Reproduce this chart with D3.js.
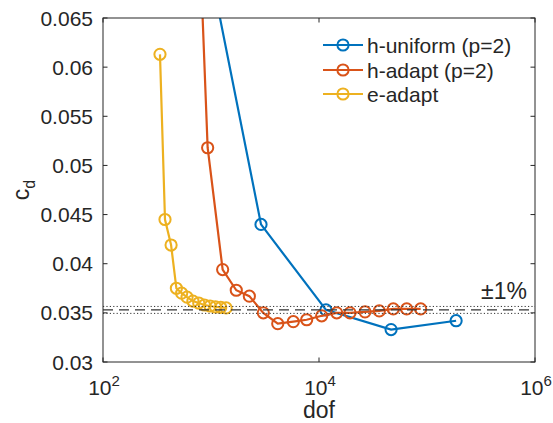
<!DOCTYPE html>
<html>
<head>
<meta charset="utf-8">
<script src="https://cdn.jsdelivr.net/npm/d3@7"></script>
<style>
  body { margin: 0; background: #fff; }
  svg text { font-family: "Liberation Sans", Arial, sans-serif; fill: #262626; }
</style>
</head>
<body>
<svg id="chart" width="553" height="423"></svg>
<script>
// data
const huniformDof = [726, 2904, 11600, 46500, 186000];
const huniformCd = [0.0773, 0.0440, 0.0353, 0.0333, 0.0342];

const hadaptDof = [790, 931, 1282, 1714, 2265, 3050, 4150, 5780, 7690, 10590, 14590, 19370, 26670, 36150, 48720, 64860, 87350];
const hadaptCd = [0.0721, 0.0518, 0.0394, 0.0373, 0.0367, 0.0350, 0.0339, 0.0341, 0.0343, 0.0347, 0.0350, 0.0350, 0.0351, 0.0352, 0.0354, 0.0354, 0.0354];

const eadaptDof = [337, 375, 427, 478, 535, 600, 680, 770, 870, 980, 1100, 1230, 1380];
const eadaptCd = [0.0613, 0.0445, 0.0419, 0.0375, 0.0370, 0.0366, 0.0362, 0.0360, 0.0358, 0.0357, 0.0356, 0.03555, 0.0355];

const seriesNames = ["h-uniform (p=2)", "h-adapt (p=2)", "e-adapt"];
const seriesColors = ["#0072BD", "#D95319", "#EDB120"];

const refCd = 0.0353;
const xTicks = [1e2, 1e4, 1e6];
const yTicks = [0.03, 0.035, 0.04, 0.045, 0.05, 0.055, 0.06, 0.065];

function plot() {
  const svg = d3.select('#chart');
  const margin = { left: 103, top: 18, right: 18, bottom: 61 };
  const width = 553, height = 423;
  const axisColor = '#262626';

  const x = d3.scaleLog().domain([1e2, 1e6]).range([margin.left, width - margin.right]);
  const y = d3.scaleLinear().domain([0.03, 0.065]).range([height - margin.bottom, margin.top]);

  svg.append('clipPath').attr('id', 'clip')
    .append('rect')
    .attr('x', margin.left).attr('y', margin.top)
    .attr('width', x.range()[1] - x.range()[0])
    .attr('height', y.range()[0] - y.range()[1]);

  // series
  const series = [
    d3.zip(huniformDof, huniformCd),
    d3.zip(hadaptDof, hadaptCd),
    d3.zip(eadaptDof, eadaptCd)
  ];

  const line = d3.line().x(d => x(d[0])).y(d => y(d[1]));
  const plotG = svg.append('g').attr('clip-path', 'url(#clip)');

  series.forEach(function (pts, i) {
    plotG.append('path')
      .attr('d', line(pts))
      .attr('fill', 'none')
      .attr('stroke', seriesColors[i])
      .attr('stroke-width', 2.2);
    plotG.append('g').selectAll('circle')
      .data(pts)
      .join('circle')
      .attr('cx', d => x(d[0]))
      .attr('cy', d => y(d[1]))
      .attr('r', 5.6)
      .attr('fill', 'none')
      .attr('stroke', seriesColors[i])
      .attr('stroke-width', 2);
  });

  // reference line and +-1% band, drawn on top of the data
  const refs = [
    { v: refCd, dash: '10,6', w: 1.1 },
    { v: refCd * 1.01, dash: '1.2,2.2', w: 1 },
    { v: refCd * 0.99, dash: '1.2,2.2', w: 1 }
  ];
  svg.append('g').selectAll('line')
    .data(refs)
    .join('line')
    .attr('x1', x.range()[0]).attr('x2', x.range()[1])
    .attr('y1', d => y(d.v)).attr('y2', d => y(d.v))
    .attr('stroke', '#333')
    .attr('stroke-width', d => d.w)
    .attr('stroke-dasharray', d => d.dash);

  svg.append('text')
    .attr('x', 504).attr('y', 299)
    .attr('text-anchor', 'middle')
    .style('font-size', '23px')
    .text('\u00b11%');

  // axes box
  const x0 = x.range()[0], x1 = x.range()[1], y0 = y.range()[0], y1 = y.range()[1];
  svg.append('rect')
    .attr('x', x0).attr('y', y1)
    .attr('width', x1 - x0).attr('height', y0 - y1)
    .attr('fill', 'none')
    .attr('stroke', axisColor)
    .attr('stroke-width', 1);

  const tickLen = 4.5;
  const ticks = svg.append('g').attr('stroke', axisColor).attr('stroke-width', 1);
  yTicks.forEach(function (t) {
    ticks.append('line').attr('x1', x0).attr('x2', x0 + tickLen).attr('y1', y(t)).attr('y2', y(t));
    ticks.append('line').attr('x1', x1).attr('x2', x1 - tickLen).attr('y1', y(t)).attr('y2', y(t));
  });
  xTicks.forEach(function (t) {
    ticks.append('line').attr('x1', x(t)).attr('x2', x(t)).attr('y1', y0).attr('y2', y0 - tickLen);
    ticks.append('line').attr('x1', x(t)).attr('x2', x(t)).attr('y1', y1).attr('y2', y1 + tickLen);
  });

  // y tick labels
  svg.append('g').selectAll('text')
    .data(yTicks)
    .join('text')
    .attr('x', x0 - 10)
    .attr('y', d => y(d) + 7.5)
    .attr('text-anchor', 'end')
    .style('font-size', '21px')
    .text(d => d3.format('~g')(d));

  // x tick labels 10^n
  const xl = svg.append('g').selectAll('text')
    .data(xTicks)
    .join('text')
    .attr('x', d => x(d) + 1)
    .attr('y', 395)
    .attr('text-anchor', 'middle')
    .style('font-size', '21px');
  xl.append('tspan').text('10');
  xl.append('tspan')
    .attr('dy', -9)
    .style('font-size', '15px')
    .text(d => Math.round(Math.log10(d)));

  // axis labels
  svg.append('text')
    .attr('x', (x0 + x1) / 2)
    .attr('y', 418)
    .attr('text-anchor', 'middle')
    .style('font-size', '23px')
    .text('dof');

  const yl = svg.append('text')
    .attr('transform', `translate(29,${(y0 + y1) / 2}) rotate(-90)`)
    .attr('text-anchor', 'middle')
    .style('font-size', '23px');
  yl.append('tspan').text('c');
  yl.append('tspan').attr('dy', 6).style('font-size', '16px').text('d');

  // legend
  const legendY = [45, 70, 94];
  const leg = svg.append('g');
  seriesNames.forEach(function (name, i) {
    leg.append('line')
      .attr('x1', 323).attr('x2', 363)
      .attr('y1', legendY[i]).attr('y2', legendY[i])
      .attr('stroke', seriesColors[i]).attr('stroke-width', 2.2);
    leg.append('circle')
      .attr('cx', 343).attr('cy', legendY[i]).attr('r', 5.6)
      .attr('fill', 'none')
      .attr('stroke', seriesColors[i]).attr('stroke-width', 2);
    leg.append('text')
      .attr('x', 367).attr('y', legendY[i] + 7.5)
      .style('font-size', '21px')
      .text(name);
  });
}

plot();
</script>
</body>
</html>
